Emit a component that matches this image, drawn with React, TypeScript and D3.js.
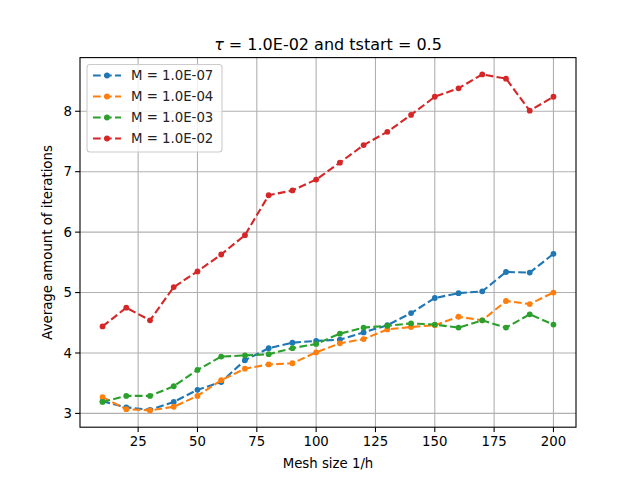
import React from "react";
import * as d3 from "d3";

const meshSizes = [10, 20, 30, 40, 50, 60, 70, 80, 90, 100, 110, 120, 130, 140, 150, 160, 170, 180, 190, 200];

const m1e7 = [3.2, 3.1, 3.06, 3.19, 3.39, 3.52, 3.88, 4.08, 4.17, 4.2, 4.22, 4.34, 4.46, 4.66, 4.91, 4.99, 5.02, 5.34, 5.33, 5.64];
const m1e4 = [3.27, 3.07, 3.05, 3.11, 3.29, 3.55, 3.74, 3.81, 3.83, 4.01, 4.16, 4.23, 4.39, 4.43, 4.46, 4.6, 4.54, 4.86, 4.81, 5.0];
const m1e3 = [3.19, 3.29, 3.29, 3.45, 3.72, 3.94, 3.96, 3.98, 4.08, 4.15, 4.32, 4.42, 4.45, 4.49, 4.47, 4.42, 4.54, 4.42, 4.64, 4.47];
const m1e2 = [4.44, 4.75, 4.54, 5.09, 5.35, 5.63, 5.95, 6.61, 6.69, 6.87, 7.15, 7.44, 7.66, 7.94, 8.24, 8.38, 8.61, 8.54, 8.01, 8.24];

const seriesNames = ["M = 1.0E-07", "M = 1.0E-04", "M = 1.0E-03", "M = 1.0E-02"];
const seriesValues = [m1e7, m1e4, m1e3, m1e2];
const seriesColors = ["#1f77b4", "#ff7f0e", "#2ca02c", "#d62728"];

const xTicks = [25, 50, 75, 100, 125, 150, 175, 200];
const yTicks = [3, 4, 5, 6, 7, 8];

const W = 640;
const H = 480;
const left = 80;
const right = 576;
const top = 57.6;
const bottom = 427.2;
const font = "DejaVu Sans, sans-serif";

export default function App() {
  const allY = seriesValues.flat();
  const xMin = d3.min(meshSizes)!;
  const xMax = d3.max(meshSizes)!;
  const yMin = d3.min(allY)!;
  const yMax = d3.max(allY)!;
  const xPad = (xMax - xMin) * 0.05;
  const yPad = (yMax - yMin) * 0.05;

  const x = d3.scaleLinear().domain([xMin - xPad, xMax + xPad]).range([left, right]);
  const y = d3.scaleLinear().domain([yMin - yPad, yMax + yPad]).range([bottom, top]);

  const line = d3
    .line<number>()
    .x((_, i) => x(meshSizes[i]))
    .y((d) => y(d));

  const legX = 87;
  const legY = 64.5;
  const rowH = 21;

  return (
    <svg
      width={W}
      height={H}
      style={{ position: "absolute", left: 0, top: 0, background: "white" }}
      fontFamily={font}
    >
      <rect x={0} y={0} width={W} height={H} fill="white" />
      {/* grid */}
      {xTicks.map((t) => (
        <line key={"gx" + t} x1={x(t)} x2={x(t)} y1={top} y2={bottom} stroke="#b0b0b0" strokeWidth={1.1} />
      ))}
      {yTicks.map((t) => (
        <line key={"gy" + t} x1={left} x2={right} y1={y(t)} y2={y(t)} stroke="#b0b0b0" strokeWidth={1.1} />
      ))}

      {/* series */}
      {seriesValues.map((vals, s) => (
        <g key={seriesNames[s]}>
          <path
            d={line(vals) || ""}
            fill="none"
            stroke={seriesColors[s]}
            strokeWidth={2.1}
            strokeDasharray="7.7,3.3"
          />
          {vals.map((v, i) => (
            <circle key={i} cx={x(meshSizes[i])} cy={y(v)} r={2.9} fill={seriesColors[s]} />
          ))}
        </g>
      ))}

      {/* spines */}
      <rect x={left} y={top} width={right - left} height={bottom - top} fill="none" stroke="black" strokeWidth={1.1} />

      {/* x ticks */}
      {xTicks.map((t) => (
        <g key={"tx" + t}>
          <line x1={x(t)} x2={x(t)} y1={bottom} y2={bottom + 4.9} stroke="black" strokeWidth={1.1} />
          <text x={x(t)} y={bottom + 19} textAnchor="middle" fontSize={13.3} fill="black">
            {t}
          </text>
        </g>
      ))}
      {/* y ticks */}
      {yTicks.map((t) => (
        <g key={"ty" + t}>
          <line x1={left - 4.9} x2={left} y1={y(t)} y2={y(t)} stroke="black" strokeWidth={1.1} />
          <text x={left - 8} y={y(t) + 4.8} textAnchor="end" fontSize={13.3} fill="black">
            {t}
          </text>
        </g>
      ))}

      {/* labels */}
      <text x={(left + right) / 2} y={468} textAnchor="middle" fontSize={13.3} fill="black">
        Mesh size 1/h
      </text>
      <text
        transform={`translate(52, ${(top + bottom) / 2}) rotate(-90)`}
        textAnchor="middle"
        fontSize={13.3}
        fill="black"
      >
        Average amount of iterations
      </text>
      <text x={(left + right) / 2} y={50} textAnchor="middle" fontSize={16} fill="black">
        <tspan fontStyle="italic">τ</tspan>
        <tspan> = 1.0E-02 and tstart = 0.5</tspan>
      </text>

      {/* legend */}
      <rect
        x={legX}
        y={legY}
        width={135}
        height={87.5}
        rx={3}
        fill="white"
        fillOpacity={0.8}
        stroke="#cccccc"
        strokeWidth={1.1}
      />
      {seriesNames.map((name, s) => {
        const cy = legY + 11 + s * rowH;
        return (
          <g key={"leg" + name}>
            <line
              x1={legX + 6}
              x2={legX + 34}
              y1={cy}
              y2={cy}
              stroke={seriesColors[s]}
              strokeWidth={2.1}
              strokeDasharray="7.7,3.3"
            />
            <circle cx={legX + 20} cy={cy} r={2.9} fill={seriesColors[s]} />
            <text x={legX + 44} y={cy + 4.8} fontSize={13.3} fill="#222">
              {name}
            </text>
          </g>
        );
      })}
    </svg>
  );
}
